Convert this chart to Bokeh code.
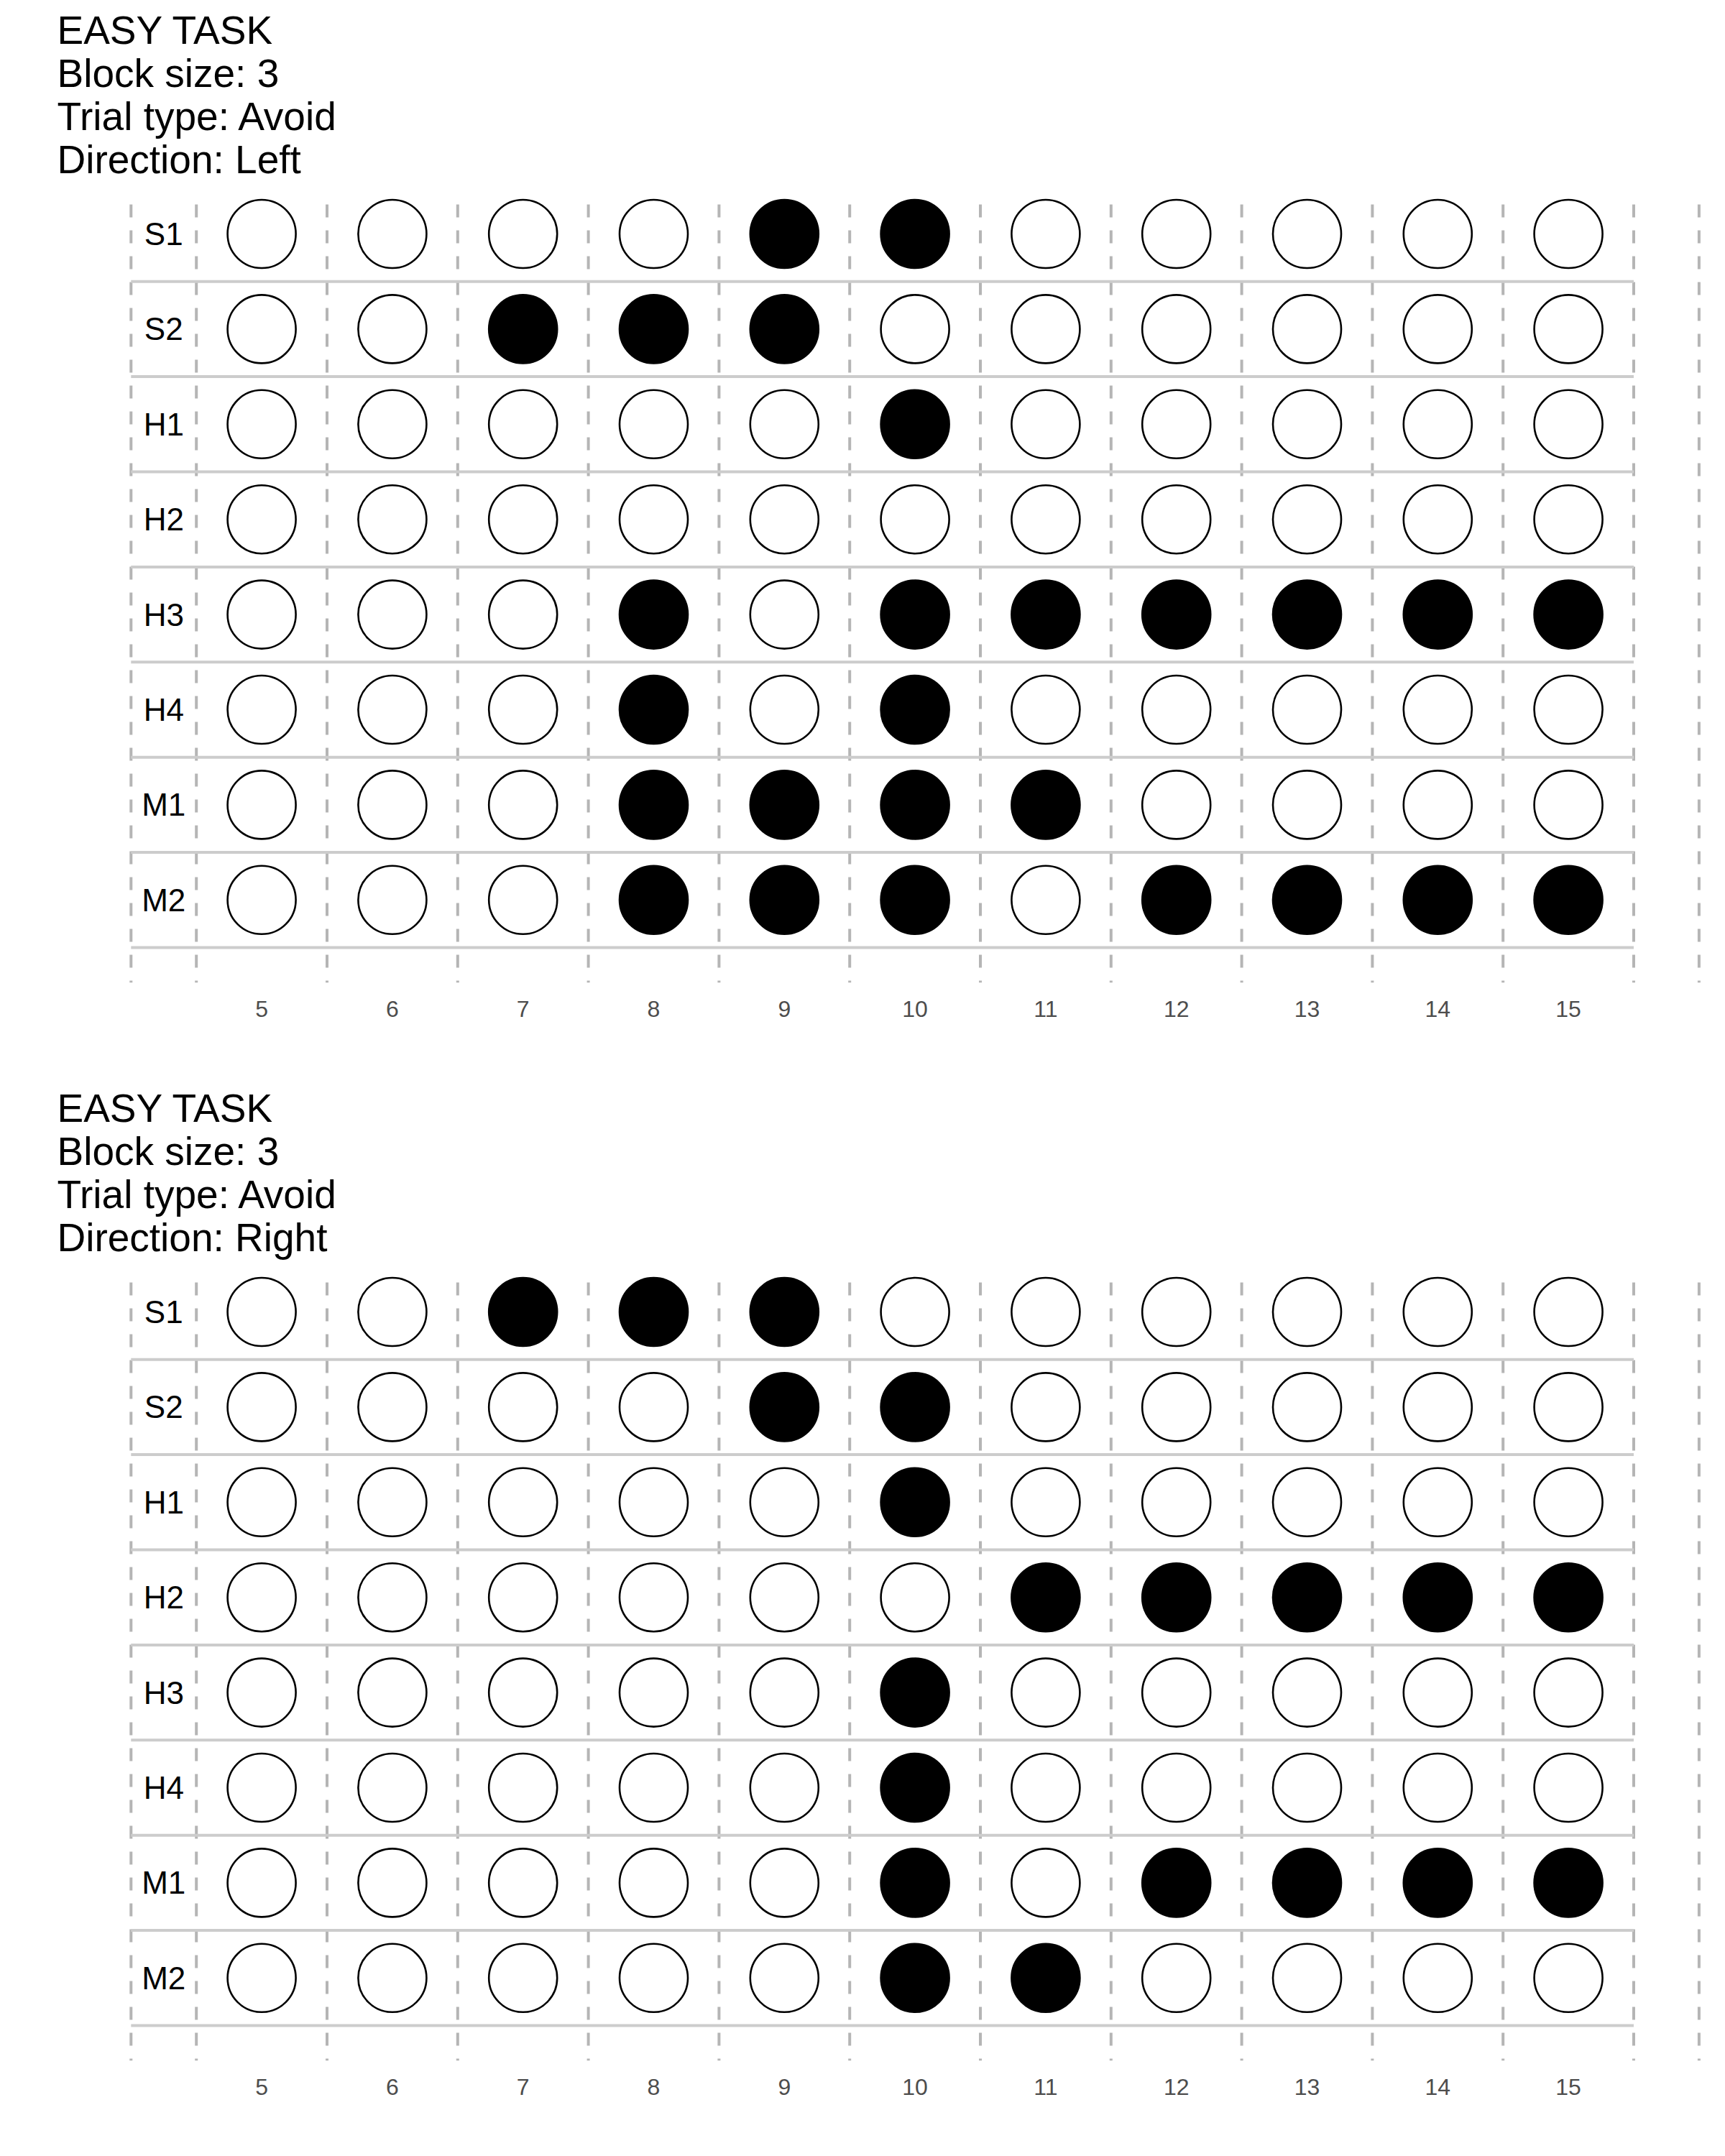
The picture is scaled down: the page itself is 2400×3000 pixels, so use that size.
from bokeh.plotting import figure
from bokeh.models import Range1d, FixedTicker, Label, ColumnDataSource
from bokeh.layouts import column
from bokeh.embed import file_html
from bokeh.resources import INLINE
from bokeh.core.properties import value

# ---- data ----
trials = [5, 6, 7, 8, 9, 10, 11, 12, 13, 14, 15]
rows = ["S1", "S2", "H1", "H2", "H3", "H4", "M1", "M2"]

left_title = ["EASY TASK", "Block size: 3", "Trial type: Avoid", "Direction: Left"]
right_title = ["EASY TASK", "Block size: 3", "Trial type: Avoid", "Direction: Right"]

# 1 = filled (black), 0 = open circle; one list per row, one value per trial
left_grid = [
    [0, 0, 0, 0, 1, 1, 0, 0, 0, 0, 0],  # S1
    [0, 0, 1, 1, 1, 0, 0, 0, 0, 0, 0],  # S2
    [0, 0, 0, 0, 0, 1, 0, 0, 0, 0, 0],  # H1
    [0, 0, 0, 0, 0, 0, 0, 0, 0, 0, 0],  # H2
    [0, 0, 0, 1, 0, 1, 1, 1, 1, 1, 1],  # H3
    [0, 0, 0, 1, 0, 1, 0, 0, 0, 0, 0],  # H4
    [0, 0, 0, 1, 1, 1, 1, 0, 0, 0, 0],  # M1
    [0, 0, 0, 1, 1, 1, 0, 1, 1, 1, 1],  # M2
]
right_grid = [
    [0, 0, 1, 1, 1, 0, 0, 0, 0, 0, 0],  # S1
    [0, 0, 0, 0, 1, 1, 0, 0, 0, 0, 0],  # S2
    [0, 0, 0, 0, 0, 1, 0, 0, 0, 0, 0],  # H1
    [0, 0, 0, 0, 0, 0, 1, 1, 1, 1, 1],  # H2
    [0, 0, 0, 0, 0, 1, 0, 0, 0, 0, 0],  # H3
    [0, 0, 0, 0, 0, 1, 0, 0, 0, 0, 0],  # H4
    [0, 0, 0, 0, 0, 1, 0, 1, 1, 1, 1],  # M1
    [0, 0, 0, 0, 0, 1, 1, 0, 0, 0, 0],  # M2
]

FONT = "Liberation Sans"


def make_panel(title_lines, grid):
    W, H = 2400, 1500
    bottom = 133
    frame_h = H - bottom
    row_px = 132.4
    first_row_px = 325.0
    unit_px = 181.8
    n = len(rows)
    y_top = -first_row_px / row_px
    y_bot = (frame_h - first_row_px) / row_px
    p = figure(width=W, height=H, output_backend="svg", toolbar_location=None,
               x_range=Range1d(trials[0] - 2.0, trials[0] - 2.0 + W / unit_px),
               y_range=Range1d(y_bot, y_top),
               y_axis_location=None,
               min_border_left=0, min_border_right=0,
               min_border_top=0, min_border_bottom=bottom)
    p.outline_line_color = None
    p.background_fill_color = "white"
    p.border_fill_color = "white"
    p.xgrid.grid_line_color = None
    p.ygrid.grid_line_color = None

    # dashed vertical lines (panel region of the original)
    panel_top = -0.31
    vx = [trials[0] - 1.0] + [t - 0.5 for t in trials] + [trials[-1] + 0.5, trials[-1] + 1.0]
    p.segment(x0=vx, x1=vx, y0=[panel_top] * len(vx), y1=[y_bot] * len(vx),
              line_color="#b5b5b5", line_width=4, line_dash="18 18")

    # horizontal row separators
    p.segment(x0=[trials[0] - 1.0] * n, x1=[trials[-1] + 0.5] * n,
              y0=[i + 0.5 for i in range(n)], y1=[i + 0.5 for i in range(n)],
              line_color="#cccccc", line_width=4)

    # circles
    xs, ys, fills = [], [], []
    for i, r in enumerate(rows):
        for j, t in enumerate(trials):
            xs.append(t)
            ys.append(i)
            fills.append("black" if grid[i][j] else "white")
    src = ColumnDataSource(dict(x=xs, y=ys, fill=fills))
    p.scatter("x", "y", source=src, size=95, fill_color="fill",
              line_color="black", line_width=2.6)

    # row labels
    p.text(x=[trials[0] - 0.75] * n, y=list(range(n)), text=rows,
           text_font=value(FONT), text_font_size="44px",
           text_align="center", text_baseline="middle", text_color="black")

    # x axis
    ax = p.xaxis[0]
    ax.ticker = FixedTicker(ticks=trials)
    ax.axis_line_color = None
    ax.major_tick_line_color = None
    ax.minor_tick_line_color = None
    ax.major_tick_out = 0
    ax.major_tick_in = 0
    ax.major_label_standoff = 25
    ax.major_label_text_font = FONT
    ax.major_label_text_font_size = "32px"
    ax.major_label_text_color = "#4d4d4d"

    # title lines (screen units from frame bottom-left)
    for k, line in enumerate(title_lines):
        baseline = 41 + k * 60
        p.add_layout(Label(x=79, y=frame_h - baseline, x_units="screen", y_units="screen",
                           text=line, text_font=FONT, text_font_size="55px",
                           text_color="black", text_baseline="alphabetic", text_align="left"))
    return p


p1 = make_panel(left_title, left_grid)
p2 = make_panel(right_title, right_grid)
layout = column(p1, p2, spacing=0)

open("out.html", "w").write(file_html(layout, INLINE))
